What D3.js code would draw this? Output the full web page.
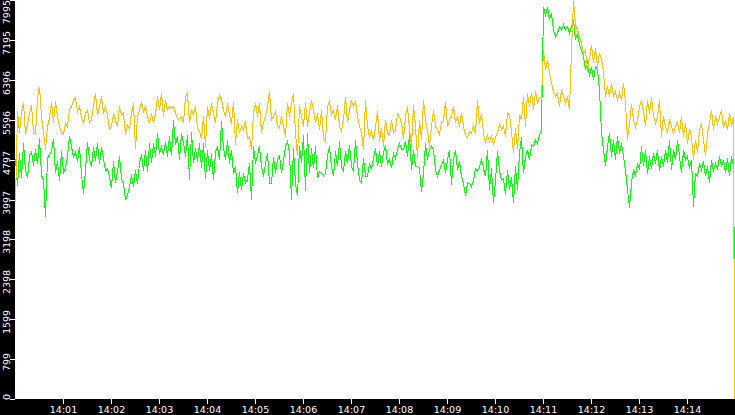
<!DOCTYPE html>
<html>
<head>
<meta charset="utf-8">
<script src="https://cdn.jsdelivr.net/npm/d3@7"></script>
<style>
html,body{margin:0;padding:0;background:#000;}
svg{display:block;}
</style>
</head>
<body>
<svg id="chart" width="735" height="415"></svg>
<script>
// ---- data ----
const startTime = "14:00:00";
const endTime = "14:15:00";
const stepSeconds = 2.5;           // sample spacing
const lastSampleSeconds = 898.75;  // final sample (drop-off)

const yTickLabels = [0, 799, 1599, 2398, 3198, 3997, 4797, 5596, 6396, 7195, 7995];
const xTickLabels = ["14:01","14:02","14:03","14:04","14:05","14:06","14:07","14:08","14:09","14:10","14:11","14:12","14:13","14:14"];

const yellowSeries = [
3950,5760,5330,5760,5930,5300,5490,5720,5890,5330,
5300,6030,6260,5660,5330,5000,5460,5620,5960,5530,
5960,5660,5460,5330,5300,5530,5460,5790,5860,5990,
6030,5760,5860,5630,5530,5720,5790,5530,5590,5890,
6130,5690,5860,6060,5720,5860,5690,5400,5460,5720,
5590,5460,5860,5690,5730,5300,5490,5420,5720,5930,
5000,5660,5790,5960,5730,
5860,5660,5520,5730,5530,5700,6060,5790,6130,5660,
5990,5790,5860,5830,5860,5730,5620,5590,5660,5530,
6060,6130,5530,5790,5690,5860,5420,5360,5220,5660,
5060,5860,5620,5920,5730,5530,5930,6090,6000,5790,
5660,5920,5690,5520,5960,5090,5600,5330,5460,5390,
5560,5230,5250,4990,5720,5930,5660,5930,5330,5530,
5660,5860,6160,
5590,5660,5760,5460,5430,5660,5460,5260,5930,5660,
5920,6130,5320,4860,5860,5660,5460,5960,5460,5730,
5990,5790,5530,5720,5390,5790,5230,5160,5860,5960,
5700,5790,5590,5890,5460,5360,5600,6060,5530,5790,
5990,5860,5960,5660,5460,5330,4990,5990,5460,5230,
5390,5190,5460,5760,5160,5430,5060,5590,5330,5290,
5590,5330,
5390,5720,5660,5520,5220,5660,5860,5390,5060,5890,
5460,4830,5590,5190,5990,5590,5360,5060,5460,5790,
5460,5390,5300,5560,5560,5960,5460,5590,5660,5860,
5530,5660,5460,5730,5460,5290,5230,5360,5330,5490,
5320,5990,5520,5730,5330,5130,5280,5160,5290,5090,
5260,5320,5520,5390,5460,5260,5730,5690,5360,4930,
5430,5000,5690,5590,6060,5460,6130,5860,6130,5790,
6160,5930,6030,
6060,6990,6590,6790,6530,6330,6160,6060,6130,5860,
6190,6060,5920,6060,5790,6990,7990,7500,7400,7260,
7130,6930,6990,6560,6830,7090,6730,7030,6660,6930,
6790,6560,6060,6260,6060,6330,6060,6160,5990,6130,
5990,6330,5930,5200,5520,5900,5590,5450,5590,5860,
5990,5760,5460,5990,5720,6060,5660,5520,5650,5990,
5260,5660,5460,5330,5600,5460,5320,5460,5550,5330,
5660,5260,5530,5120,5400,5260,4790,5190,4940,5390,
5520,5190,4860,5330,5520,5790,5400,5660,5520,5650,
5790,5430,5590,5390,5730,5460,5650,
0
];

const greenSeries = [
4800,4260,4920,4420,5120,4590,4420,4860,4950,4680,
5000,4700,5220,4480,4400,3650,4820,4900,4960,5200,
4520,4760,4360,4960,4540,4620,4860,5260,5050,4850,
4950,4760,5050,4500,4100,4590,5140,4800,4660,5040,
4770,5130,4700,5040,4820,4560,4620,4440,4220,4760,
4330,4560,4860,4430,4300,3990,4100,4240,4500,4250,
4580,4300,4720,4900,4560,
4990,4540,5120,4730,5120,4860,5330,4920,5050,4900,
5150,4860,5260,4860,5590,5090,5260,4790,5320,5130,
4860,5290,4390,5350,4720,5020,4760,5120,4620,5120,
4400,4990,4560,4900,4390,4950,5060,4790,5560,5020,
4790,5190,4720,4990,4520,4660,4120,4550,4190,4520,
4320,4400,4730,3980,5060,4720,4890,5060,4660,4450,
4720,4920,4320,
4320,4850,4530,4790,4890,4520,4780,5060,5160,4930,
3990,5020,4320,4060,5060,4720,5290,4160,5320,4520,
5020,4620,5060,4420,4560,4520,4470,4520,4880,5060,
4660,4460,4960,4660,5160,4660,4560,4960,4720,5090,
4660,4560,5190,4720,4390,4330,4820,4460,4460,4720,
4590,4820,5020,4660,4960,4660,4930,5090,4690,4820,
4620,4920,
4820,4990,5120,5000,4990,5160,4860,5290,4590,4990,
4660,4660,4620,4150,4520,5120,4790,4990,5060,4990,
4590,4460,4590,4690,4790,4520,4800,4990,4290,4790,
4990,4590,4760,4460,4320,4060,4330,4320,4250,4370,
4620,4560,4660,4790,4620,4460,4990,4190,4620,3920,
4390,4960,4580,4390,4420,4090,4590,4190,4450,3920,
4660,4190,4920,5250,4520,4860,4990,4790,5090,5060,
5190,5120,5290,
5390,7860,7660,7860,7590,7730,7390,7260,7330,7460,
7390,7500,7400,7460,7330,7460,7600,7200,7330,7100,
6990,6860,6590,6790,6460,6660,6390,6660,6590,6200,
5330,4990,4660,5060,5330,4860,5190,4790,5260,4920,
5120,4860,4590,4190,3830,4330,4600,4460,4720,4590,
5060,4660,4990,4500,4860,4600,4920,4720,4990,4560,
4860,4660,4990,4720,5190,4590,4990,4790,5190,4860,
4530,4990,4790,4860,4620,4790,3850,4520,4460,4720,
4590,4760,4460,4660,4320,4790,4560,4720,4590,4860,
4660,4790,4520,4820,4460,4860,4660,
2300
];

// ---- layout ----
const W = 735, H = 415;
const plotLeft = 15, plotRight = 735, plotTop = 0, plotBottom = 399;

const parse = d3.timeParse("%H:%M:%S");
const t0 = parse(startTime), t1 = parse(endTime);

const x = d3.scaleTime().domain([t0, t1]).range([plotLeft, plotRight]);
const y = d3.scaleLinear().domain([0, 7995]).range([plotBottom, plotTop]);

function timeAt(i, n) {
  const s = (i === n - 1) ? lastSampleSeconds : i * stepSeconds;
  return new Date(t0.getTime() + s * 1000);
}

const svg = d3.select("#chart");
svg.append("rect").attr("x",0).attr("y",0).attr("width",W).attr("height",H).attr("fill","#000");
svg.append("rect").attr("x",plotLeft).attr("y",plotTop)
  .attr("width",plotRight-plotLeft).attr("height",plotBottom-plotTop).attr("fill","#fff");

svg.append("clipPath").attr("id","plotclip").append("rect")
  .attr("x",plotLeft).attr("y",plotTop).attr("width",plotRight-plotLeft).attr("height",plotBottom-plotTop+1);

const g = svg.append("g").attr("clip-path","url(#plotclip)");

function drawSeries(arr, color) {
  const n = arr.length;
  const line = d3.line()
    .x((d,i) => Math.round(x(timeAt(i,n))) + 0.5)
    .y(d => y(d));
  g.append("path").datum(arr)
    .attr("d", line)
    .attr("fill","none")
    .attr("stroke", color)
    .attr("stroke-width", 1)
    .attr("shape-rendering","crispEdges");
}
drawSeries(greenSeries, "#00ff00");
drawSeries(yellowSeries, "#ffc000");

// ---- x axis ----
const xTicks = xTickLabels.map(s => parse(s + ":00"));
const xAxis = d3.axisBottom(x).tickValues(xTicks).tickFormat(d3.timeFormat("%H:%M")).tickSize(5).tickPadding(2);
const xa = svg.append("g").attr("transform", `translate(0,${plotBottom})`).call(xAxis);
xa.select(".domain").remove();
xa.selectAll("line").attr("stroke","#fff").attr("shape-rendering","crispEdges");
xa.selectAll("text").attr("fill","#fff").style("font-family","'DejaVu Sans', sans-serif").style("font-size","9.5px");

// ---- y axis ----
const ya = svg.append("g");
yTickLabels.forEach(v => {
  const yy = Math.round(y(v));
  ya.append("line").attr("x1", plotLeft-5).attr("x2", plotLeft).attr("y1", yy+0.5).attr("y2", yy+0.5)
    .attr("stroke","#fff").attr("shape-rendering","crispEdges");
  const t = ya.append("text").text(String(v))
    .attr("fill","#fff")
    .style("font-family","'DejaVu Sans', sans-serif").style("font-size","9.5px")
    .attr("text-anchor","middle");
  const w = t.node().getComputedTextLength();
  let cy = yy + 3;
  cy = Math.max(w/2, Math.min(plotBottom - w/2 + 1, cy));
  t.attr("transform", `translate(10,${cy}) rotate(-90)`);
});
</script>
</body>
</html>
